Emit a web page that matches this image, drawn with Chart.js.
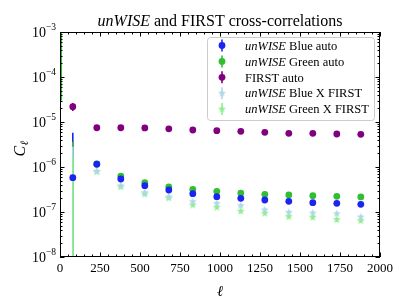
<!DOCTYPE html>
<html>
<head>
<meta charset="utf-8">
<script src="https://cdn.jsdelivr.net/npm/chart.js@4/dist/chart.umd.min.js"></script>
<style>
  html, body { margin: 0; padding: 0; background: #fff; }
  #wrap { width: 407px; height: 305px; }
</style>
</head>
<body>
<div id="wrap"><canvas id="c"></canvas></div>
<script>
// multipole bins
const ell = [8, 80, 230, 380, 530, 680, 830, 980, 1130, 1280, 1430, 1580, 1730, 1880];

const blueAuto = [null, 5.78e-7, 1.15e-6, 5.41e-7, 3.84e-7, 3.08e-7, 2.55e-7, 2.19e-7, 2.01e-7, 1.85e-7, 1.73e-7, 1.61e-7, 1.56e-7, 1.48e-7];
const blueAutoErr = [null, 5.2e-6, 4e-8, 2.5e-8, 1.6e-8, 1.2e-8, 1e-8, 8e-9, 7e-9, 6e-9, 6e-9, 5e-9, 5e-9, 5e-9];

const greenAuto = [3.0e-3, -1e-7, 1.17e-6, 6.3e-7, 4.47e-7, 3.6e-7, 3.19e-7, 2.88e-7, 2.64e-7, 2.47e-7, 2.39e-7, 2.30e-7, 2.23e-7, 2.16e-7];
const greenAutoErr = [2.97e-3, 3.75e-6, 4e-8, 2.5e-8, 1.6e-8, 1.2e-8, 1e-8, 8e-9, 7e-9, 6e-9, 6e-9, 5e-9, 5e-9, 5e-9];

const firstAuto = [null, 2.19e-5, 7.46e-6, 7.46e-6, 7.4e-6, 7.05e-6, 6.64e-6, 6.41e-6, 6.21e-6, 5.90e-6, 5.61e-6, 5.61e-6, 5.41e-6, 5.33e-6];
const firstAutoErr = [null, 4.4e-6, 2e-7, 1.8e-7, 1.6e-7, 1.5e-7, 1.4e-7, 1.3e-7, 1.2e-7, 1.2e-7, 1.1e-7, 1.1e-7, 1.1e-7, 1.1e-7];

const blueXFirst = [null, -1e-7, 8.0e-7, 3.8e-7, 2.69e-7, 2.16e-7, 1.69e-7, 1.56e-7, 1.38e-7, 1.11e-7, 9.85e-8, 9.5e-8, 9.17e-8, 7.74e-8];
const blueXFirstErr = [null, 2.92e-6, 5e-8, 3e-8, 2e-8, 1.5e-8, 1.2e-8, 1e-8, 9e-9, 8e-9, 7e-9, 7e-9, 7e-9, 6e-9];

const greenXFirst = [null, -1e-7, 7.87e-7, 3.65e-7, 2.51e-7, 2.05e-7, 1.43e-7, 1.27e-7, 1.04e-7, 9.36e-8, 7.87e-8, 7.62e-8, 6.75e-8, 6.41e-8];
const greenXFirstErr = [null, 1.79e-6, 5e-8, 3e-8, 2e-8, 1.5e-8, 1.2e-8, 1e-8, 9e-9, 8e-9, 7e-9, 7e-9, 7e-9, 6e-9];

const labels = ['unWISE Blue auto', 'unWISE Green auto', 'FIRST auto', 'unWISE Blue X FIRST', 'unWISE Green X FIRST'];
const colors = ['rgb(28,36,240)', 'rgb(50,190,50)', '#800080', '#add8e6', '#90ee90'];

const xTicks = [0, 250, 500, 750, 1000, 1250, 1500, 1750, 2000];
const yExps = [-8, -7, -6, -5, -4, -3];

const SERIF = '"Liberation Serif", "DejaVu Serif", serif';

// filled five point star, like matplotlib '*'
function makeStar(color, r) {
  const c = document.createElement('canvas');
  const s = Math.ceil(r * 2 + 2);
  c.width = s; c.height = s;
  const g = c.getContext('2d');
  g.fillStyle = color;
  g.beginPath();
  for (let i = 0; i < 10; i++) {
    const rad = i % 2 === 0 ? r : r * 0.42;
    const a = -Math.PI / 2 + i * Math.PI / 5;
    const px = s / 2 + rad * Math.cos(a), py = s / 2 + rad * Math.sin(a);
    i === 0 ? g.moveTo(px, py) : g.lineTo(px, py);
  }
  g.closePath();
  g.fill();
  return c;
}

const series = [
  { values: blueAuto, errors: blueAutoErr, star: false },
  { values: greenAuto, errors: greenAutoErr, star: false },
  { values: firstAuto, errors: firstAutoErr, star: false },
  { values: blueXFirst, errors: blueXFirstErr, star: true },
  { values: greenXFirst, errors: greenXFirstErr, star: true },
];
series.forEach((s, i) => { s.label = labels[i]; s.color = colors[i]; if (s.star) s.img = makeStar(colors[i], 4.2); });

const datasets = series.map(s => ({
  label: s.label,
  data: ell.map((l, i) => ({ x: l, y: s.values[i] })),
  showLine: false,
  backgroundColor: s.color,
  borderColor: s.color,
  borderWidth: 0,
  pointStyle: s.star ? s.img : 'circle',
  pointRadius: 3.4,
}));

const errBars = {
  id: 'errBars',
  beforeDatasetsDraw(chart) {
    const { ctx, chartArea: a, scales: { x, y } } = chart;
    ctx.save();
    ctx.beginPath();
    ctx.rect(a.left, a.top, a.right - a.left, a.bottom - a.top);
    ctx.clip();
    ctx.lineWidth = 1.6;
    series.forEach(s => {
      ctx.strokeStyle = s.color;
      s.values.forEach((v, i) => {
        if (v === null) return;
        const e = s.errors[i];
        const px = x.getPixelForValue(ell[i]);
        const top = y.getPixelForValue(v + e);
        const bot = v - e > 0 ? y.getPixelForValue(v - e) : a.bottom + 2;
        ctx.beginPath();
        ctx.moveTo(px, top);
        ctx.lineTo(px, bot);
        ctx.stroke();
      });
    });
    ctx.restore();
  }
};

function drawMixed(ctx, text, x, y, size, align) {
  // "unWISE" is set in italics
  const parts = text.startsWith('unWISE') ? [['unWISE', true], [text.slice(6), false]] : [[text, false]];
  let w = 0;
  parts.forEach(p => { ctx.font = (p[1] ? 'italic ' : '') + size + 'px ' + SERIF; w += ctx.measureText(p[0]).width; });
  let cx = align === 'center' ? x - w / 2 : x;
  ctx.textAlign = 'left';
  parts.forEach(p => {
    ctx.font = (p[1] ? 'italic ' : '') + size + 'px ' + SERIF;
    ctx.fillText(p[0], cx, y);
    cx += ctx.measureText(p[0]).width;
  });
}

const frame = {
  id: 'frame',
  afterDraw(chart) {
    const { ctx, chartArea: a, scales: { x, y } } = chart;
    ctx.save();
    ctx.strokeStyle = '#000';
    ctx.fillStyle = '#000';
    ctx.lineWidth = 1;

    // ticks (inward, all four sides)
    ctx.beginPath();
    for (let v = 0; v <= 2000; v += 50) {
      const px = Math.round(x.getPixelForValue(v)) + 0.5;
      const len = v % 250 === 0 ? 4.5 : 2.5;
      ctx.moveTo(px, a.bottom); ctx.lineTo(px, a.bottom - len);
      ctx.moveTo(px, a.top); ctx.lineTo(px, a.top + len);
    }
    yExps.forEach((ex, k) => {
      for (let m = 1; m <= 9; m++) {
        if (k === yExps.length - 1 && m > 1) break;
        const py = Math.round(y.getPixelForValue(m * Math.pow(10, ex))) + 0.5;
        const len = m === 1 ? 4.5 : 2.5;
        ctx.moveTo(a.left, py); ctx.lineTo(a.left + len, py);
        ctx.moveTo(a.right, py); ctx.lineTo(a.right - len, py);
      }
    });
    ctx.stroke();
    ctx.strokeRect(a.left + 0.5, a.top + 0.5, a.right - a.left - 1, a.bottom - a.top - 1);

    // x tick labels
    ctx.font = '13px ' + SERIF;
    ctx.textAlign = 'center';
    ctx.textBaseline = 'top';
    xTicks.forEach(v => ctx.fillText(String(v), x.getPixelForValue(v), a.bottom + 5));

    // y tick labels 10^n
    ctx.textBaseline = 'middle';
    yExps.forEach(ex => {
      const py = y.getPixelForValue(Math.pow(10, ex));
      ctx.font = '9.5px ' + SERIF;
      const sup = '\u2212' + (-ex);
      const ws = ctx.measureText(sup).width;
      ctx.textAlign = 'right';
      ctx.fillText(sup, a.left - 4, py - 5);
      ctx.font = '14px ' + SERIF;
      ctx.fillText('10', a.left - 4 - ws, py + 1);
    });

    // axis titles
    ctx.textAlign = 'center';
    ctx.textBaseline = 'alphabetic';
    ctx.font = 'italic 15px ' + SERIF;
    ctx.fillText('\u2113', (a.left + a.right) / 2, 296);
    ctx.save();
    ctx.translate(25, (a.top + a.bottom) / 2 + 4);
    ctx.rotate(-Math.PI / 2);
    ctx.font = 'italic 16px ' + SERIF;
    ctx.textAlign = 'left';
    ctx.fillText('C', -8, 0);
    ctx.font = 'italic 11px ' + SERIF;
    ctx.fillText('\u2113', 3, 3);
    ctx.restore();

    // title
    ctx.fillStyle = '#000';
    drawMixed(ctx, 'unWISE and FIRST cross-correlations', (a.left + a.right) / 2, 26, 16, 'center');

    // legend
    const lx = 207, ly = 37, lw = 167, lh = 83;
    ctx.beginPath();
    ctx.roundRect(lx + 0.5, ly + 0.5, lw, lh, 3);
    ctx.fillStyle = 'rgba(255,255,255,0.85)';
    ctx.fill();
    ctx.strokeStyle = '#cccccc';
    ctx.stroke();
    series.forEach((s, i) => {
      const ry = 45.5 + i * 15.9;
      const mx = 222;
      ctx.strokeStyle = s.color;
      ctx.lineWidth = 1.6;
      ctx.beginPath(); ctx.moveTo(mx, ry - 6); ctx.lineTo(mx, ry + 6); ctx.stroke();
      if (s.star) {
        ctx.drawImage(s.img, mx - s.img.width / 2, ry - s.img.height / 2);
      } else {
        ctx.fillStyle = s.color;
        ctx.beginPath(); ctx.arc(mx, ry, 3.4, 0, Math.PI * 2); ctx.fill();
      }
      ctx.fillStyle = '#000';
      ctx.textBaseline = 'middle';
      drawMixed(ctx, s.label, 245, ry + 1, 12.5, 'left');
    });
    ctx.restore();
  }
};

new Chart(document.getElementById('c'), {
  type: 'scatter',
  data: { datasets },
  options: {
    responsive: true,
    maintainAspectRatio: false,
    animation: false,
    layout: { padding: { left: 60, right: 27, top: 32, bottom: 48 } },
    plugins: { legend: { display: false }, tooltip: { enabled: false }, title: { display: false } },
    scales: {
      x: { type: 'linear', min: 0, max: 2000, display: false },
      y: { type: 'logarithmic', min: 1e-8, max: 1e-3, display: false },
    },
  },
  plugins: [errBars, frame],
});
</script>
</body>
</html>
